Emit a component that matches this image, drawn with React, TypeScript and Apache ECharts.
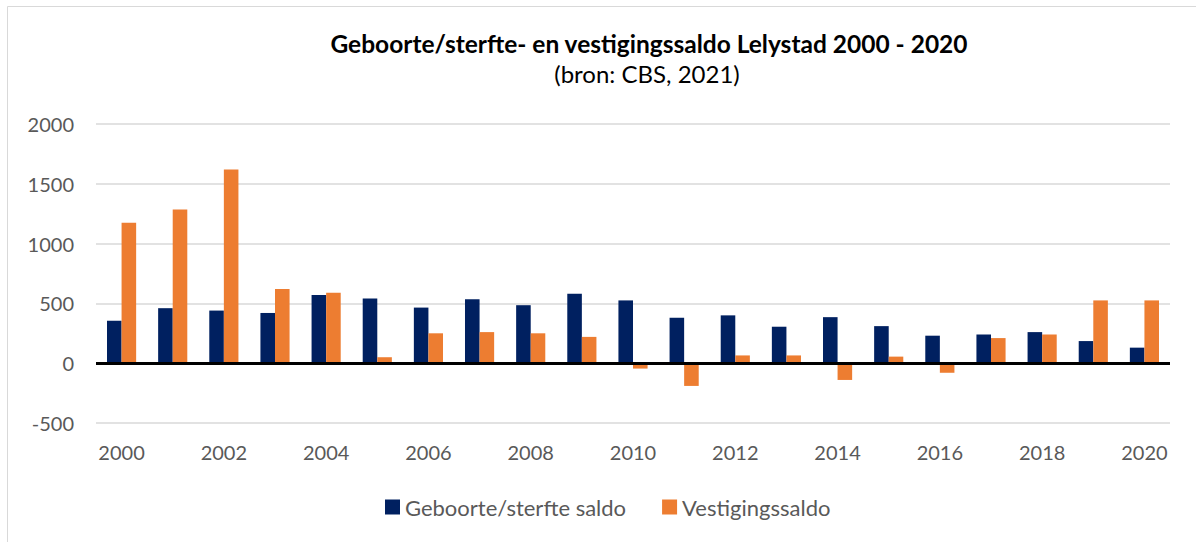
import React, { useEffect, useRef } from "react";
import * as echarts from "echarts";

const years = ["2000","2001","2002","2003","2004","2005","2006","2007","2008","2009","2010","2011","2012","2013","2014","2015","2016","2017","2018","2019","2020"];
const geboorteSterfte = [355, 460, 440, 420, 570, 540, 465, 535, 485, 580, 525, 380, 400, 305, 385, 310, 230, 240, 260, 185, 130];
const vestiging = [1175, 1285, 1620, 620, 590, 50, 250, 260, 250, 220, -45, -190, 65, 65, -140, 55, -80, 210, 240, 525, 525];
const seriesNames = ["Geboorte/sterfte saldo", "Vestigingssaldo"];
const titleText = "Geboorte/sterfte- en vestigingssaldo Lelystad 2000 - 2020";
const subtitleText = "(bron: CBS, 2021)";

const FONT = "Lato, 'Open Sans', sans-serif";

export default function App() {
  const ref = useRef<HTMLDivElement>(null);
  useEffect(() => {
    if (!ref.current) return;
    const chart = echarts.init(ref.current, null, { renderer: "svg" });
    chart.setOption({
      animation: false,
      backgroundColor: "#ffffff",
      textStyle: { fontFamily: FONT },
      graphic: [
        { type: "rect", shape: { x: 7.5, y: 6.5, width: 1300, height: 700 }, style: { fill: "none", stroke: "#D9D9D9", lineWidth: 1 }, silent: true },
        { type: "text", x: 649, y: 43, style: { text: titleText, textAlign: "center", textVerticalAlign: "middle", font: `bold 24.5px ${FONT}`, fill: "#000000" } },
        { type: "text", x: 647, y: 73, style: { text: subtitleText, textAlign: "center", textVerticalAlign: "middle", font: `24px ${FONT}`, fill: "#000000" } },
      ],
      legend: {
        left: 380,
        top: 491,
        itemWidth: 15,
        itemHeight: 15,
        itemGap: 36,
        itemTextGap: 7,
        icon: "rect",
        textStyle: { fontSize: 22, color: "#595959", fontFamily: FONT },
        data: seriesNames,
      },
      grid: { left: 96, right: 26, top: 124, bottom: 119, containLabel: false },
      xAxis: {
        type: "category",
        data: years,
        axisLine: { show: false },
        axisTick: { show: false },
        axisLabel: { interval: 1, color: "#595959", fontSize: 20, margin: 19, fontFamily: FONT },
      },
      yAxis: {
        type: "value",
        min: -500,
        max: 2000,
        interval: 500,
        axisLine: { show: false },
        axisTick: { show: false },
        axisLabel: { color: "#595959", fontSize: 20, margin: 22, fontFamily: FONT, formatter: (v: number) => String(v) },
        splitLine: { lineStyle: { color: "#D9D9D9", width: 1.5 } },
      },
      series: [
        {
          name: seriesNames[0],
          type: "bar",
          data: geboorteSterfte,
          itemStyle: { color: "#002060" },
          barGap: "0%",
          barCategoryGap: "43%",
          markLine: {
            silent: true,
            symbol: "none",
            label: { show: false },
            lineStyle: { color: "#000000", width: 3, type: "solid" },
            data: [{ yAxis: 0 }],
            z: 10,
          },
        },
        {
          name: seriesNames[1],
          type: "bar",
          data: vestiging,
          itemStyle: { color: "#ED7D31" },
          barGap: "0%",
          barCategoryGap: "43%",
        },
      ],
    });
    return () => chart.dispose();
  }, []);
  return <div ref={ref} style={{ position: "fixed", left: 0, top: 0, width: 1196, height: 542 }} />;
}
